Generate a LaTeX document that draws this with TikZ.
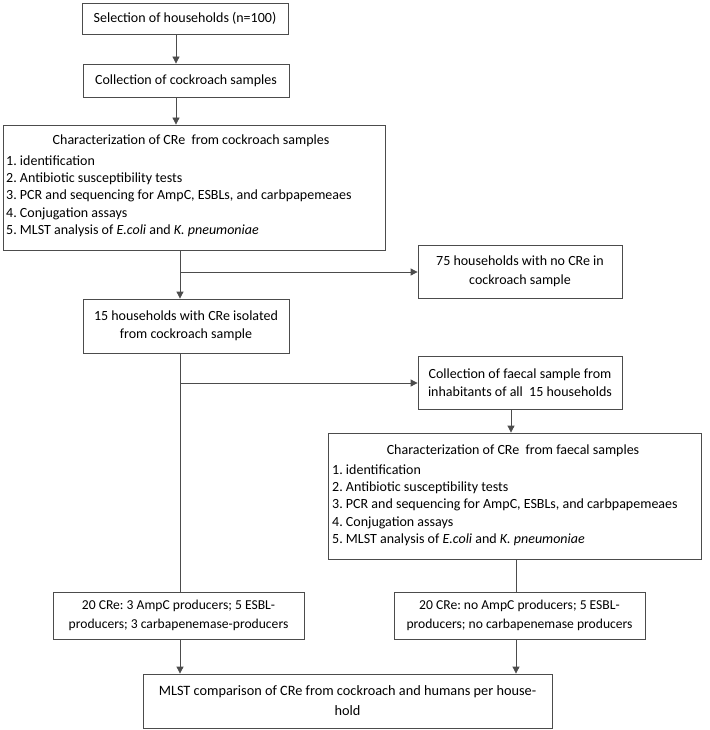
\documentclass[tikz,border=0pt]{standalone}
\usepackage{fontspec}
\setmainfont{Carlito}
\usetikzlibrary{arrows.meta}
\frenchspacing
\begin{document}
\begin{tikzpicture}[x=1pt,y=-1pt,
  box/.style={draw=black!70, line width=0.8pt, inner sep=0pt, align=center, font=\fontsize{14}{18.5}\selectfont},
  listbox/.style={draw=black!70, line width=0.8pt, inner sep=0pt},
  headtext/.style={inner sep=0pt, font=\fontsize{14}{16}\selectfont},
  listtext/.style={anchor=north west, inner sep=0pt, align=left, font=\fontsize{14}{17.2}\selectfont},
  cbox/.style={box, font=\fontsize{13.6}{19}\selectfont},
  ln/.style={draw=black!70, line width=0.8pt},
  arr/.style={ln, -{Triangle[width=7pt,length=7pt]}}]
\useasboundingbox (0,0) rectangle (709,730);

\node[box, minimum width=206pt, minimum height=31pt] (s1) at (185,18.5) {Selection of households (n=100)};
\node[box, minimum width=206pt, minimum height=33pt] (s2) at (186,80.5) {Collection of cockroach samples};

\node[listbox, minimum width=382pt, minimum height=125pt] (c1) at (194,187.5) {};
\node[headtext] (c1h) at (191,140.5) {Characterization of CRe\ \ from cockroach samples};
\node[listtext] (c1t) at (6,155.5)
 {1. identification\\
  2. Antibiotic susceptibility tests\\
  3. PCR and sequencing for AmpC, ESBLs, and carbpapemeaes\\
  4. Conjugation assays\\
  5. MLST analysis of \textit{E.coli} and \textit{K. pneumoniae}};

\node[box, minimum width=204pt, minimum height=53pt] (n75) at (520,271.5) {75 households with no CRe in\\cockroach sample};
\node[box, minimum width=206pt, minimum height=54pt] (h15) at (186,326) {15 households with CRe isolated\\from cockroach sample};
\node[box, minimum width=204pt, minimum height=53pt] (cf) at (520,382.5) {Collection of faecal sample from\\inhabitants of all\ \ 15 households};

\node[listbox, minimum width=373pt, minimum height=126pt] (c2) at (514.5,496) {};
\node[headtext] (c2h) at (513,450.5) {Characterization of CRe\ \ from faecal samples};
\node[listtext] (c2t) at (332,464.5)
 {1. identification\\
  2. Antibiotic susceptibility tests\\
  3. PCR and sequencing for AmpC, ESBLs, and carbpapemeaes\\
  4. Conjugation assays\\
  5. MLST analysis of \textit{E.coli} and \textit{K. pneumoniae}};

\node[cbox, minimum width=251pt, minimum height=47pt] (r1) at (178.5,615.5) {20 CRe: 3 AmpC producers; 5 ESBL-\\producers; 3 carbapenemase-producers};
\node[cbox, minimum width=251pt, minimum height=47pt] (r2) at (519.5,615.5) {20 CRe: no AmpC producers; 5 ESBL-\\producers; no carbapenemase producers};
\node[cbox, font=\fontsize{14.3}{20}\selectfont, minimum width=409pt, minimum height=54pt] (m) at (347.5,701) {MLST comparison of CRe from cockroach and humans per house-\\hold};

\coordinate (b1) at (180,272);
\coordinate (b2) at (180,383);

\draw[arr] (s1.south -| 176,0) -- (s2.north -| 176,0);
\draw[arr] (s2.south -| 176,0) -- (c1.north -| 176,0);
\draw[arr] (c1.south -| 180,0) -- (h15.north -| 180,0);
\draw[arr] (b1) -- (b1 -| n75.west);
\draw[ln] (h15.south -| 180,0) -- (r1.north -| 180,0);
\draw[arr] (b2) -- (b2 -| cf.west);
\draw[arr] (cf.south -| 511,0) -- (c2.north -| 511,0);
\draw[ln] (c2.south -| 516,0) -- (r2.north -| 516,0);
\draw[arr] (r1.south -| 180,0) -- (m.north -| 180,0);
\draw[arr] (r2.south -| 516,0) -- (m.north -| 516,0);
\end{tikzpicture}
\end{document}
